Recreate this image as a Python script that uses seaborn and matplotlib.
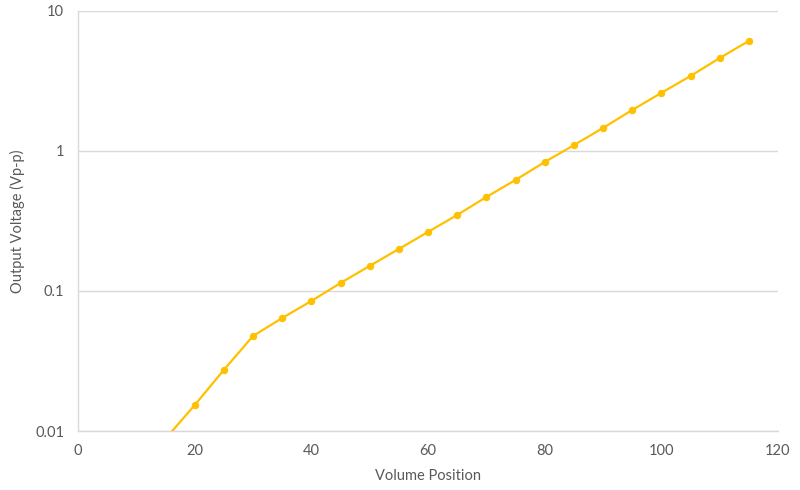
import numpy as np
import pandas as pd
import matplotlib
matplotlib.use('Agg')
import matplotlib.pyplot as plt
import seaborn as sns
from matplotlib.ticker import FixedLocator, FuncFormatter

# Values (volume knob position vs. output Vp-p)
volume_position = [15, 20, 25, 30, 35, 40, 45, 50, 55, 60, 65,
                   70, 75, 80, 85, 90, 95, 100, 105, 110, 115]
output_voltage = [0.0088, 0.0153, 0.0273, 0.0477, 0.0641, 0.0848, 0.114,
                  0.151, 0.1995, 0.264, 0.349, 0.469, 0.621, 0.834,
                  1.10, 1.46, 1.96, 2.60, 3.43, 4.61, 6.11]
x_ticks = [0, 20, 40, 60, 80, 100, 120]
y_ticks = [0.01, 0.1, 1, 10]

colors = {'line': '#FFC000', 'grid': '#D9D9D9', 'text': '#595959'}

sns.set_style('white')
plt.rcParams['font.family'] = ['Lato', 'DejaVu Sans']

df = pd.DataFrame({'pos': volume_position, 'vpp': output_voltage})

fig = plt.figure(figsize=(8, 4.9), dpi=100)
ax = fig.add_axes([0.0975, 0.1204, 0.875, 0.8572])

sns.lineplot(data=df, x='pos', y='vpp', ax=ax, color=colors['line'],
             linewidth=1.6, marker='o', markersize=4.6,
             markeredgecolor=colors['line'], zorder=3)

ax.set_yscale('log')
ax.set_xlim(0, 120)
ax.set_ylim(0.01, 10)
ax.xaxis.set_major_locator(FixedLocator(x_ticks))
ax.yaxis.set_major_locator(FixedLocator(y_ticks))
ax.yaxis.set_minor_locator(FixedLocator([]))
ax.yaxis.set_major_formatter(FuncFormatter(lambda v, _: f'{v:g}'))

ax.grid(True, axis='y', color=colors['grid'], linewidth=1)
ax.grid(False, axis='x')
for side in ['top', 'right']:
    ax.spines[side].set_visible(False)
for side in ['left', 'bottom']:
    ax.spines[side].set_color(colors['grid'])
    ax.spines[side].set_linewidth(1)

ax.tick_params(axis='both', length=0, labelsize=10.5, labelcolor=colors['text'])
ax.tick_params(axis='x', pad=9)
ax.tick_params(axis='y', pad=10)

ax.set_xlabel('Volume Position', fontsize=10.5, color=colors['text'], labelpad=8)
ax.set_ylabel('Output Voltage (Vp-p)', fontsize=10.5, color=colors['text'], labelpad=7)

fig.savefig('out.png', dpi=100)
